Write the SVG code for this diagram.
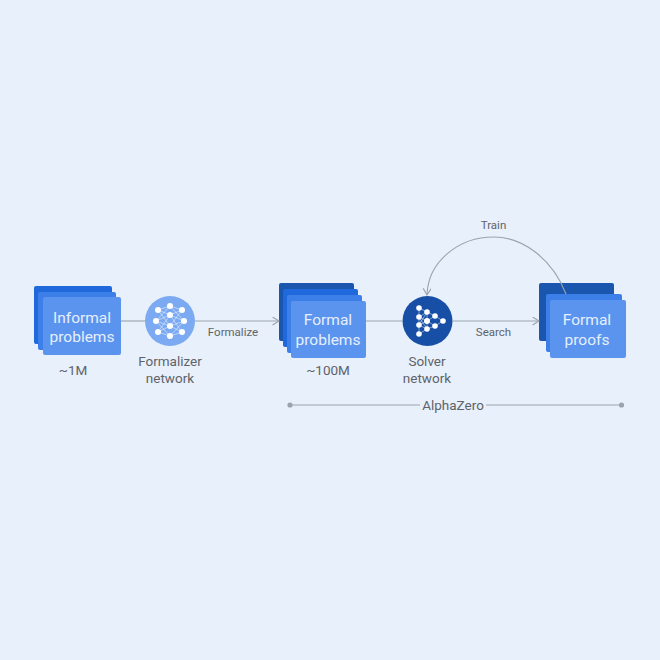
<svg xmlns="http://www.w3.org/2000/svg" width="660" height="660" viewBox="0 0 660 660">
<style>
text{font-family:Roboto,"Liberation Sans",sans-serif;text-anchor:middle}
.big{font-size:15.5px;fill:#e6effd}
.lab{font-size:13.500px;fill:#5f6368}
.sm{font-size:11.500px;fill:#5f6368}
.c1{fill:#1a56ad}.c2{fill:#2069dc}.c3{fill:#3d7fe8}.c4{fill:#5b94ee}
.ln{fill:none;stroke:#9aa3ad;stroke-width:1.1}
.nl{fill:none;stroke:#fff;stroke-width:.6;opacity:.8}
.nd{fill:#fff}
</style>
<defs>
<marker id="arr" markerWidth="10" markerHeight="10" refX="7.500" refY="4" orient="auto" markerUnits="userSpaceOnUse"><path d="M1 0L7.500 4L1 8" fill="none" stroke="#9aa3ad" stroke-width="1.1"/></marker>
<g id="net1">
<path class="nl" d="M-12-11L0-15L12-11M-12-11L0-6L12-11M-14 0L0-15L14 0M-14 0L0-6L14 0M-14 0L0 5L14 0M-12 11L0 5L12 11M-12 11L0 15L12 11M-12-11L0 5L12-11M-12 11L0-6L12 11M-14 0L0 15L14 0"/>
<g class="nd"><circle cx="0" cy="-15" r="3"/><circle cx="0" cy="-6" r="3"/><circle cx="0" cy="5" r="3"/><circle cx="0" cy="15" r="3"/><circle cx="-12" cy="-11" r="3"/><circle cx="12" cy="-11" r="3"/><circle cx="-14" cy="0" r="3"/><circle cx="14" cy="0" r="3"/><circle cx="-12" cy="11" r="3"/><circle cx="12" cy="11" r="3"/></g>
</g>
<g id="net2">
<path class="nl" d="M-8-13L0-9M-8-4L0-9M-8-4L0 0M-8 4L0 0M-8 4L0 8M-8 13L0 8M-8-13L-8 13M0-9L8-5M0 0L8-5M0 0L8 5M0 8L8 5M8-5L16 0M8 5L16 0M-8-4L0 8M-8 4L0-9M0-9L0 8"/>
<g class="nd"><circle cx="-8" cy="-13" r="2.800"/><circle cx="-8" cy="-4" r="2.800"/><circle cx="-8" cy="4" r="2.800"/><circle cx="-8" cy="13" r="2.800"/><circle cx="0" cy="-9" r="2.800"/><circle cx="0" cy="0" r="3"/><circle cx="0" cy="8" r="2.800"/><circle cx="8" cy="-5" r="2.800"/><circle cx="8" cy="5" r="2.800"/><circle cx="16" cy="0" r="2.800"/></g>
</g>
</defs>
<rect width="660" height="660" fill="#e8f0fc"/>
<g id="informal-problems">
<rect class="c2" x="34" y="286" width="78" height="58" rx="2"/>
<rect class="c3" x="38" y="292" width="78" height="58" rx="2"/>
<rect class="c4" x="43" y="297" width="78" height="58" rx="2"/>
<text class="big" x="82" y="323">Informal</text>
<text class="big" x="82" y="342">problems</text>
<text class="lab" x="73" y="375">~1M</text>
</g>
<g id="formalizer-network">
<circle cx="170" cy="321" r="25" fill="#7baaf3"/>
<use href="#net1" x="170" y="321"/>
<text class="lab" x="170" y="366">Formalizer</text>
<text class="lab" x="170" y="383">network</text>
</g>
<g id="formal-problems">
<rect class="c1" x="279" y="283" width="75" height="58" rx="2"/>
<rect class="c2" x="283" y="289" width="75" height="58" rx="2"/>
<rect class="c3" x="287" y="295" width="75" height="58" rx="2"/>
<rect class="c4" x="291" y="301" width="75" height="57" rx="2"/>
<text class="big" x="328" y="325">Formal</text>
<text class="big" x="328" y="345">problems</text>
<text class="lab" x="328" y="375">~100M</text>
</g>
<g id="solver-network">
<circle cx="427.500" cy="321" r="25" fill="#174ea6"/>
<use href="#net2" x="427" y="321"/>
<text class="lab" x="427" y="366">Solver</text>
<text class="lab" x="427" y="383">network</text>
</g>
<g id="formal-proofs">
<rect class="c1" x="539" y="283" width="75" height="58" rx="2"/>
<rect class="c3" x="546" y="294" width="76" height="58" rx="2"/>
<rect class="c4" x="550" y="300" width="76" height="58" rx="2"/>
<text class="big" x="587" y="325">Formal</text>
<text class="big" x="587" y="345">proofs</text>
</g>
<g id="connectors">
<path class="ln" d="M121 321H145"/>
<path class="ln" d="M195 321H279" marker-end="url(#arr)"/>
<path class="ln" d="M366 321H402"/>
<path class="ln" d="M452 321H539" marker-end="url(#arr)"/>
<path class="ln" d="M566 294C552 258 522 237 494 237C458 237 428 262 427 295" marker-end="url(#arr)"/>
<path class="ln" d="M290 405H420M486 405H621"/>
<circle cx="290" cy="405" r="2.600" fill="#9aa3ad"/>
<circle cx="621.500" cy="405" r="2.600" fill="#9aa3ad"/>
</g>
<g id="labels">
<text class="sm" x="233" y="336">Formalize</text>
<text class="sm" x="493.500" y="336">Search</text>
<text class="sm" x="493.500" y="229">Train</text>
<text class="lab" x="453" y="410">AlphaZero</text>
</g>
</svg>
